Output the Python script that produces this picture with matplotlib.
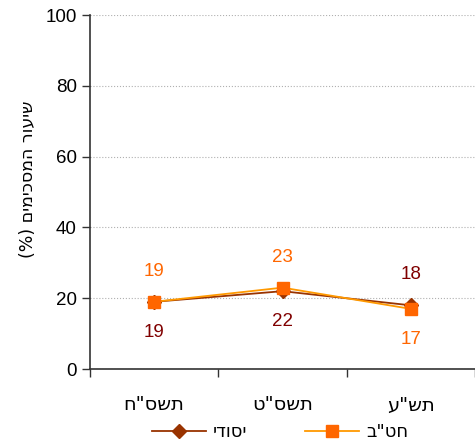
import matplotlib
matplotlib.use('Agg')
import matplotlib.pyplot as plt

plt.rcParams['font.family'] = ['Liberation Sans', 'DejaVu Sans']

# data (Hebrew strings are stored in logical order, reversed for drawing)
years = ['תשס"ח', 'תשס"ט', 'תש"ע']
series_names = ['יסודי', 'חט"ב']
yesodi = [19, 22, 18]
hativa = [19, 23, 17]
# +1 = label above the point, -1 = below
yesodi_pos = [-1, -1, 1]
hativa_pos = [1, 1, -1]
y_ticks = [0, 20, 40, 60, 80, 100]
y_label = 'שיעור המסכימים'

HEB = ['DejaVu Sans']


def rtl(s):
    # matplotlib has no bidi support, so flip the Hebrew by hand
    return s[::-1]


fig = plt.figure(figsize=(4.75, 4.42), dpi=100)
ax = fig.add_axes([0.1895, 0.165, 0.8105, 0.801])

x = list(range(len(years)))
ax.plot(x, yesodi, color='#993300', lw=1.3, marker='D', ms=7.5,
        mfc='#993300', mec='#993300', label=rtl(series_names[0]), zorder=3)
ax.plot(x, hativa, color='#FF9900', lw=1.3, marker='s', ms=8,
        mfc='#FF6600', mec='#FF6600', label=rtl(series_names[1]), zorder=4)

for i in x:
    ax.annotate(str(yesodi[i]), (i, yesodi[i]), xytext=(0, 22 * yesodi_pos[i]),
                textcoords='offset points', ha='center', va='center',
                fontsize=13.5, color='#800000')
    ax.annotate(str(hativa[i]), (i, hativa[i]), xytext=(0, 22 * hativa_pos[i]),
                textcoords='offset points', ha='center', va='center',
                fontsize=13.5, color='#FF6600')

ax.set_ylim(0, 100)
ax.set_xlim(-0.5, 2.428)
ax.set_yticks(y_ticks)
ax.tick_params(axis='y', labelsize=13.5, length=6, width=1, color='#333333')
ax.set_xticks([-0.5, 0.5, 1.5, 2.5])
ax.set_xticklabels([])
ax.set_xticks(x, minor=True)
ax.set_xticklabels([rtl(y) for y in years], minor=True, fontsize=14, family=HEB)
ax.tick_params(axis='x', which='major', length=6, width=1, color='#333333')
ax.tick_params(axis='x', which='minor', length=0, pad=19)

ax.grid(axis='y', color='#b0b0b0', ls=':', lw=0.8)
ax.set_axisbelow(True)
for s in ['top', 'right']:
    ax.spines[s].set_visible(False)
for s in ['left', 'bottom']:
    ax.spines[s].set_color('#333333')
    ax.spines[s].set_linewidth(1.2)

ax.set_ylabel('(%) ' + rtl(y_label), fontsize=12.5, family=HEB)
ax.yaxis.set_label_coords(-0.138, 0.535)

leg = fig.legend(loc='lower center', bbox_to_anchor=(0.59, -0.035), ncol=2,
                 frameon=False, handlelength=3.0, columnspacing=3.2,
                 handletextpad=0.4, prop={'family': HEB, 'size': 13})

fig.savefig('out.png', dpi=100)
